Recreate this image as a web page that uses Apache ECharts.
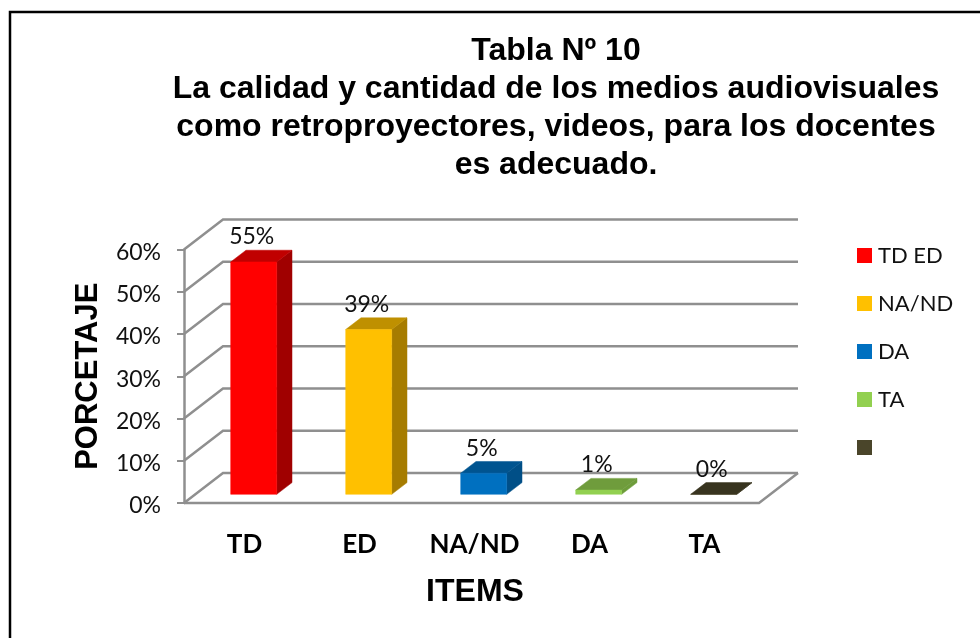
<!DOCTYPE html>
<html><head><meta charset="utf-8">
<style>html,body{margin:0;padding:0;background:#fff}#c{width:980px;height:638px}</style>
<script src="https://cdn.jsdelivr.net/npm/echarts@6/dist/echarts.min.js"></script>
</head><body><div id="c"></div>
<script>
const categories = ['TD', 'ED', 'NA/ND', 'DA', 'TA'];
const values = [55, 39, 5, 1, 0];
const legendNames = ['TD ED', 'NA/ND', 'DA', 'TA', ' '];
const yTicks = [0, 10, 20, 30, 40, 50, 60];
const titleLines = ['Tabla Nº 10', 'La calidad y cantidad de los medios audiovisuales', 'como retroproyectores, videos, para los docentes', 'es adecuado.'];
const faceColors = ['#FF0000', '#FFC000', '#0070C0', '#92D050', '#4A452A'];
const sideColors = ['#A00000', '#A67C00', '#004F87', '#6D9C3A', '#38341F'];
const topColors = ['#C00000', '#BF9000', '#005490', '#6F9C3C', '#38341F'];

const WALL_DX = 39, WALL_DY = -30;
const BAR_DX = 11.5, BAR_DY = -8.7, BAR_W = 46, SIDE_DX = 15.3, SIDE_DY = -11.7;
const GRID_COLOR = '#8f8f8f';

function poly(points, fill) {
  return { type: 'polygon', shape: { points }, style: { fill, stroke: fill, lineWidth: 0.5 } };
}
function wallItem(params, api) {
  const cs = params.coordSys;
  const y = api.coord([0, api.value(0)])[1];
  const line = (pts) => ({ type: 'polyline', shape: { points: pts }, style: { fill: 'none', stroke: GRID_COLOR, lineWidth: 2.5 } });
  const x0 = cs.x, x1 = cs.x + cs.width;
  const children = [line([[x0, y], [x0 + WALL_DX, y + WALL_DY], [x1 + WALL_DX, y + WALL_DY]])];
  if (api.value(0) === 0) children.push(line([[x0, y], [x1, y], [x1 + WALL_DX, y + WALL_DY]]));
  return { type: 'group', silent: true, children };
}
function barItem(params, api) {
  const i = api.value(0), v = api.value(1), c = params.seriesIndex - 1;
  const base = api.coord([i, 0]), head = api.coord([i, v]);
  const xl = base[0] + BAR_DX + 0.7 - BAR_W / 2, xr = xl + BAR_W;
  const yb = base[1] + BAR_DY, yt = head[1] + BAR_DY;
  const sx = SIDE_DX, sy = SIDE_DY;
  return { type: 'group', children: [
    poly([[xr, yt], [xr + sx, yt + sy], [xr + sx, yb + sy], [xr, yb]], sideColors[c]),
    poly([[xl, yt], [xl + sx, yt + sy], [xr + sx, yt + sy], [xr, yt]], topColors[c]),
    poly([[xl, yt], [xr, yt], [xr, yb], [xl, yb]], faceColors[c]),
    { type: 'text', x: (xl + xr) / 2 - 2, y: yt - 25, z2: 5, style: {
        text: v + '%', fill: '#111', font: '23px Lato', align: 'center', verticalAlign: 'middle' } }
  ] };
}
const series = [{
  type: 'custom', name: 'walls', renderItem: wallItem, silent: true, z: 1,
  data: yTicks.map(t => [t]), encode: { y: 0 }, clip: false
}];
values.forEach((v, i) => series.push({
  type: 'custom', name: legendNames[i], renderItem: barItem, z: 2, clip: false,
  itemStyle: { color: faceColors[i] },
  data: [[i, v]], encode: { x: 0, y: 1 }
}));

const chart = echarts.init(document.getElementById('c'), null, { renderer: 'canvas' });
chart.setOption({
  animation: false,
  backgroundColor: '#fff',
  title: {
    text: titleLines.join('\n'), left: 551, top: 27, textAlign: 'center',
    textStyle: { fontFamily: 'Liberation Sans', fontWeight: 'bold', fontSize: 32, lineHeight: 38, color: '#000' }
  },
  legend: {
    data: legendNames, orient: 'vertical', left: 857, top: 243, padding: 0, itemWidth: 15, itemHeight: 15,
    itemGap: 23, icon: 'rect', selectedMode: false,
    textStyle: { fontFamily: 'Lato', fontSize: 22, color: '#111', padding: [0, 0, 0, 1], lineHeight: 25 }
  },
  grid: { left: 184, top: 249.5, width: 575, height: 253.5 },
  xAxis: {
    type: 'category', data: categories,
    axisLine: { show: false }, axisTick: { show: false },
    axisLabel: { interval: 0, hideOverlap: false, margin: 29, fontFamily: 'Lato', fontWeight: 'bold', fontSize: 26, color: '#000', padding: [0, 0, 0, 6] },
    name: 'ITEMS', nameLocation: 'middle', nameGap: 73,
    nameTextStyle: { fontFamily: 'Liberation Sans', fontWeight: 'bold', fontSize: 32, color: '#000', padding: [0, 0, 0, 7] }
  },
  yAxis: {
    type: 'value', min: 0, max: 60, interval: 10,
    axisLine: { show: true, lineStyle: { color: GRID_COLOR, width: 2.5 } },
    axisTick: { show: true, length: 7, lineStyle: { color: GRID_COLOR, width: 2 } },
    splitLine: { show: false },
    axisLabel: { formatter: '{value}%', margin: 23, fontFamily: 'Lato', fontSize: 23, color: '#111', verticalAlign: 'top', lineHeight: 6 },
    name: 'PORCETAJE', nameLocation: 'middle', nameGap: 80, nameRotate: 90,
    nameTextStyle: { fontFamily: 'Liberation Sans', fontWeight: 'bold', fontSize: 31, color: '#000' }
  },
  graphic: [{ type: 'polyline', shape: { points: [[10, 638], [10, 12], [980, 12]] }, silent: true,
    style: { fill: 'none', stroke: '#000', lineWidth: 2.5 }, z: 100 }],
  series
});
</script></body></html>
